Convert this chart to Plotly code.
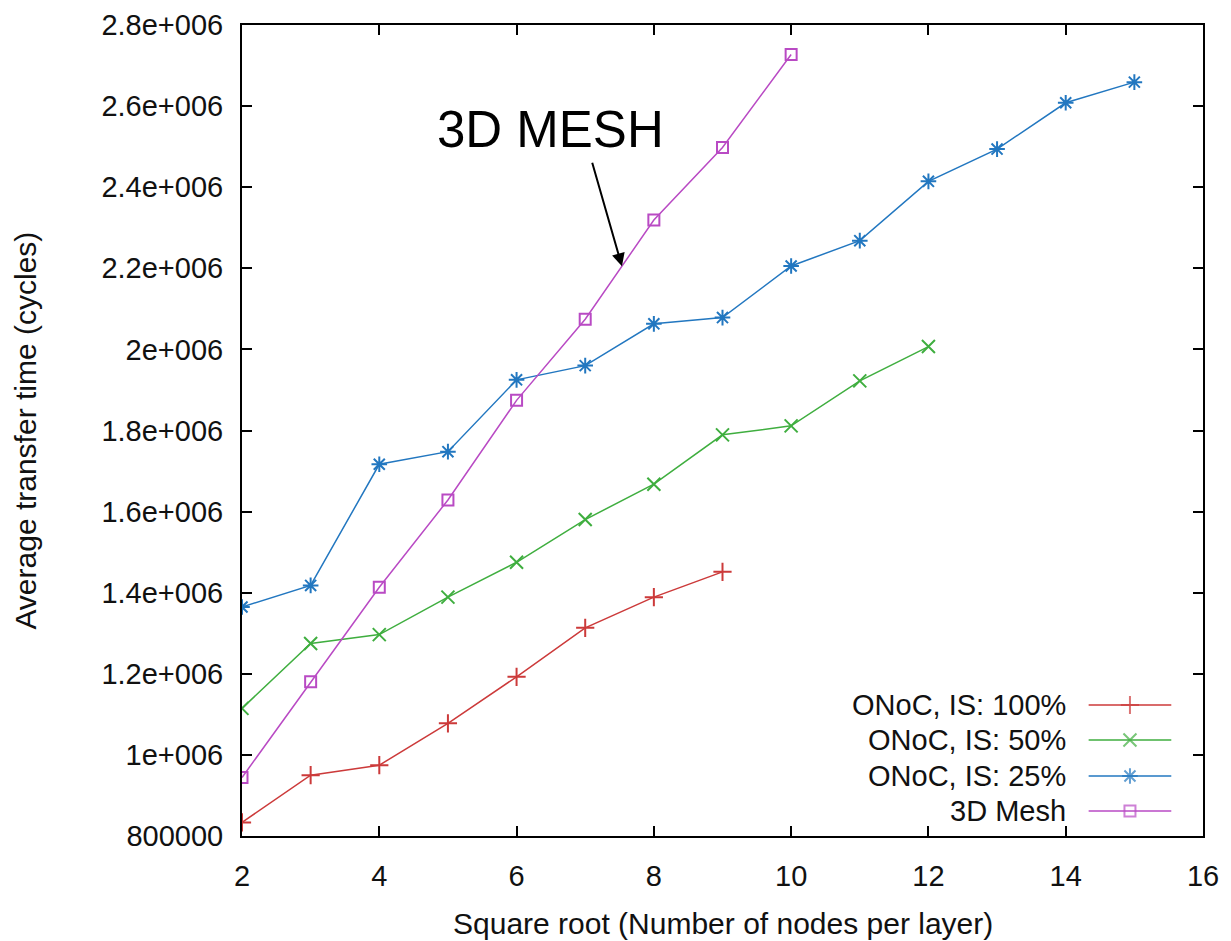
import plotly.graph_objects as go

# Square root of the number of nodes per layer
x_is100 = [2, 3, 4, 5, 6, 7, 8, 9]
x_is50 = [2, 3, 4, 5, 6, 7, 8, 9, 10, 11, 12]
x_is25 = [2, 3, 4, 5, 6, 7, 8, 9, 10, 11, 12, 13, 14, 15]
x_mesh = [2, 3, 4, 5, 6, 7, 8, 9, 10]

# Average transfer time (cycles)
y_is100 = [833600, 950000, 974600, 1077900, 1192600, 1313300, 1389000, 1451400]
y_is50 = [1114800, 1274600, 1296700, 1389000, 1475000, 1580400, 1667500,
          1789300, 1811500, 1922400, 2007000]
y_is25 = [1364800, 1418000, 1716700, 1747800, 1924900, 1960000, 2063000,
          2078400, 2205700, 2268200, 2414400, 2494000, 2608200, 2659100]
y_mesh = [944300, 1180300, 1413500, 1628600, 1874300, 2074300, 2319000,
          2498000, 2727300]

series_names = ["ONoC, IS: 100%", "ONoC, IS: 50%", "ONoC, IS: 25%", "3D Mesh"]

x_ticks = [2, 4, 6, 8, 10, 12, 14, 16]
y_ticks = [800000, 1000000, 1200000, 1400000, 1600000, 1800000, 2000000,
           2200000, 2400000, 2600000, 2800000]
y_tick_text = ["800000", "1e+006", "1.2e+006", "1.4e+006", "1.6e+006",
               "1.8e+006", "2e+006", "2.2e+006", "2.4e+006", "2.6e+006",
               "2.8e+006"]

FONT = "Liberation Sans, Arial, sans-serif"
colors = ["#cc3a3a", "#3fae3f", "#2277c0", "#b94ac4"]
symbols = ["cross-thin", "x-thin", "asterisk", "square-open"]
msizes = [13, 13, 13, 11]

fig = go.Figure()

data = [(x_is100, y_is100), (x_is50, y_is50), (x_is25, y_is25), (x_mesh, y_mesh)]
for (xs, ys), name, c, s, ms in zip(data, series_names, colors, symbols, msizes):
    fig.add_trace(go.Scatter(
        x=xs, y=ys, mode="lines+markers", name=name,
        line=dict(color=c, width=1.5),
        marker=dict(symbol=s, size=ms, color=c, line=dict(color=c, width=2)),
        showlegend=False,
    ))

# Key drawn gnuplot-style: label on the left, line sample on the right
key_rows = [0.1615, 0.1184, 0.074, 0.0308]
key_x = [0.881, 0.924, 0.967]
for row, name, c, s, ms in zip(key_rows, series_names, colors, symbols, msizes):
    fig.add_trace(go.Scatter(
        x=key_x, y=[row] * 3, mode="lines+markers",
        xaxis="x2", yaxis="y2", showlegend=False, hoverinfo="skip",
        line=dict(color=c, width=1.5),
        marker=dict(symbol=s, size=[0, ms, 0], color=c,
                    line=dict(color=c, width=2)),
    ))
    fig.add_annotation(
        x=0.859, y=row, xref="x2", yref="y2", text=name, showarrow=False,
        xanchor="right", yanchor="middle",
        font=dict(family=FONT, size=29, color="#111"),
    )

# Callout pointing at the 3D mesh curve
fig.add_annotation(
    x=7.535, y=2205000, xref="x", yref="y",
    ax=7.096, ay=2464000, axref="x", ayref="y",
    text="", showarrow=True, arrowhead=2, arrowsize=1.3, arrowwidth=2,
    arrowcolor="black",
)
fig.add_annotation(
    x=6.496, y=2542000, xref="x", yref="y", text="3D MESH", showarrow=False,
    xanchor="center", yanchor="middle",
    font=dict(family=FONT, size=51, color="black"),
)

# Axis titles
fig.add_annotation(
    x=0.5, y=-0.108, xref="paper", yref="paper",
    text="Square root (Number of nodes per layer)", showarrow=False,
    xanchor="center", yanchor="middle",
    font=dict(family=FONT, size=30, color="#111"),
)
fig.add_annotation(
    x=-0.2257, y=0.5, xref="paper", yref="paper",
    text="Average transfer time (cycles)", showarrow=False, textangle=-90,
    xanchor="center", yanchor="middle",
    font=dict(family=FONT, size=30, color="#111"),
)

axis_common = dict(
    showline=True, linecolor="black", linewidth=2, mirror="ticks",
    ticks="inside", ticklen=10, tickwidth=1.5, tickcolor="black",
    showgrid=False, zeroline=False, automargin=False,
    tickfont=dict(family=FONT, size=29, color="#111"),
)

fig.update_layout(
    width=1231, height=941,
    margin=dict(l=242, r=28, t=25, b=105),
    paper_bgcolor="white", plot_bgcolor="white",
    xaxis=dict(
        range=[2, 16], tickvals=x_ticks, ticktext=[str(v) for v in x_ticks],
        ticklabelstandoff=13,
        **axis_common,
    ),
    yaxis=dict(
        range=[800000, 2800000], tickvals=y_ticks, ticktext=y_tick_text,
        ticklabelstandoff=11,
        **axis_common,
    ),
    xaxis2=dict(range=[0, 1], overlaying="x", visible=False, fixedrange=True),
    yaxis2=dict(range=[0, 1], overlaying="y", visible=False, fixedrange=True),
    showlegend=False,
)

fig.write_html("out.html")
